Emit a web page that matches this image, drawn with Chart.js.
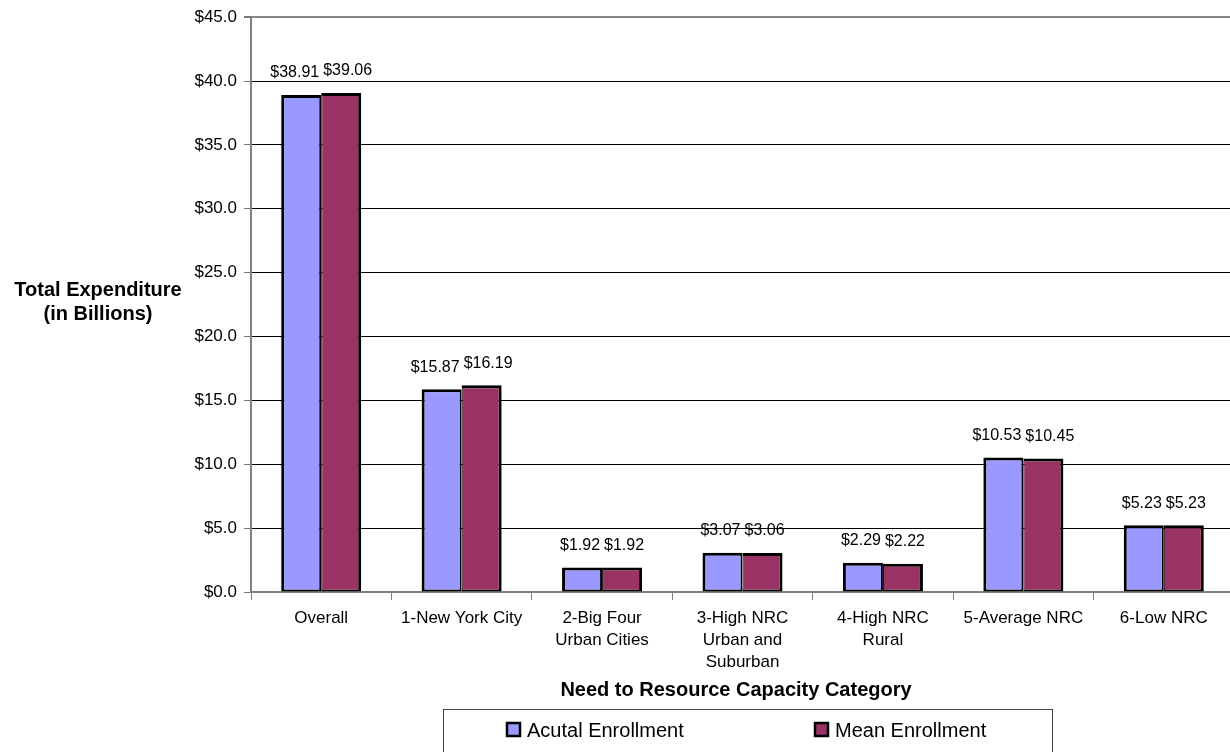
<!DOCTYPE html>
<html>
<head>
<meta charset="utf-8">
<script src="https://cdn.jsdelivr.net/npm/chart.js@4.4.1/dist/chart.umd.min.js"></script>
<style>
  html, body { margin: 0; padding: 0; background: #fff; overflow: hidden; }
  #wrap { width: 1240px; height: 752px; position: relative; }
</style>
</head>
<body>
<div id="wrap"><canvas id="barChart"></canvas></div>
<script>
// datos
const categorias = [
  'Overall',
  '1-New York City',
  ['2-Big Four', 'Urban Cities'],
  ['3-High NRC', 'Urban and', 'Suburban'],
  ['4-High NRC', 'Rural'],
  '5-Average NRC',
  '6-Low NRC'
];
const actual = [38.91, 15.87, 1.92, 3.07, 2.29, 10.53, 5.23];
const mean = [39.06, 16.19, 1.92, 3.06, 2.22, 10.45, 5.23];
const nombres = ['Acutal Enrollment', 'Mean Enrollment'];
const tituloY = ['Total Expenditure', '(in Billions)'];
const tituloX = 'Need to Resource Capacity Category';

const azul = '#9999FF';
const granate = '#993366';
const fuente = "'Liberation Sans', Arial, sans-serif";

const ctx = document.getElementById('barChart');

// etiquetas, titulos y leyenda dibujados a mano
const extras = {
  id: 'extras',
  afterDatasetsDraw(chart) {
    const c = chart.ctx;
    c.save();
    c.fillStyle = '#000';
    c.font = '16px ' + fuente;
    c.textAlign = 'center';
    c.textBaseline = 'middle';
    const m0 = chart.getDatasetMeta(0).data;
    const m1 = chart.getDatasetMeta(1).data;
    for (let i = 0; i < categorias.length; i++) {
      const t0 = '$' + actual[i].toFixed(2);
      const t1 = '$' + mean[i].toFixed(2);
      const w0 = c.measureText(t0).width;
      const w1 = c.measureText(t1).width;
      let x0 = m0[i].x, x1 = m1[i].x;
      const solape = (x0 + w0 / 2 + 4) - (x1 - w1 / 2);
      if (solape > 0) { x0 -= solape / 2; x1 += solape / 2; }
      c.fillText(t0, x0, m0[i].y - 22);
      c.fillText(t1, x1, m1[i].y - 22);
    }

    // titulo eje Y
    c.font = 'bold 20px ' + fuente;
    c.fillText(tituloY[0], 98, 290);
    c.fillText(tituloY[1], 98, 314);

    // titulo eje X
    c.fillText(tituloX, 736, 690);

    // leyenda
    c.strokeStyle = '#444';
    c.lineWidth = 1;
    c.strokeRect(443.5, 709.5, 609, 80);
    const items = [[507, azul, nombres[0]], [815, granate, nombres[1]]];
    c.font = '20px ' + fuente;
    c.textAlign = 'left';
    items.forEach(function (it) {
      c.fillStyle = it[1];
      c.fillRect(it[0], 723, 13, 13);
      c.strokeStyle = '#000';
      c.lineWidth = 2.5;
      c.strokeRect(it[0], 723, 13, 13);
      c.fillStyle = '#000';
      c.fillText(it[2], it[0] + 20, 731);
    });
    c.restore();
  }
};

const grafico = new Chart(ctx, {
  type: 'bar',
  data: {
    labels: categorias,
    datasets: [{
      label: nombres[0],
      data: actual,
      backgroundColor: azul,
      borderColor: '#000',
      borderWidth: { left: 3, top: 3, right: 2, bottom: 2 },
      borderSkipped: false,
      categoryPercentage: 0.57,
      barPercentage: 1.0
    }, {
      label: nombres[1],
      data: mean,
      backgroundColor: granate,
      borderColor: '#000',
      borderWidth: { left: 1, top: 3, right: 3, bottom: 2 },
      borderSkipped: false,
      categoryPercentage: 0.57,
      barPercentage: 1.0
    }]
  },
  options: {
    responsive: true,
    maintainAspectRatio: false,
    animation: false,
    layout: { padding: { left: 0, top: 17, right: 6, bottom: 0 } },
    plugins: {
      legend: { display: false },
      tooltip: { enabled: false }
    },
    scales: {
      y: {
        min: 0,
        max: 45,
        afterFit: function (s) { s.width = 251; },
        ticks: {
          stepSize: 5,
          padding: 7,
          color: '#000',
          font: { family: fuente, size: 17 },
          callback: function (v) { return '$' + v.toFixed(1); }
        },
        grid: {
          tickLength: 7,
          color: function (c) {
            return (c.tick && (c.tick.value === 45 || c.tick.value === 0)) ? '#888' : '#000';
          },
          lineWidth: function (c) {
            return (c.tick && c.tick.value === 45) ? 2 : 1;
          },
          tickColor: '#777'
        },
        border: { color: '#808080', width: 2 }
      },
      x: {
        afterFit: function (s) { s.height = 160; },
        ticks: {
          padding: 7,
          color: '#000',
          maxRotation: 0,
          autoSkip: false,
          font: { family: fuente, size: 17, lineHeight: 1.3 }
        },
        grid: {
          offset: true,
          drawOnChartArea: false,
          tickLength: 8,
          color: '#808080'
        },
        border: { color: '#808080', width: 2 }
      }
    }
  },
  plugins: [extras]
});
</script>
</body>
</html>
